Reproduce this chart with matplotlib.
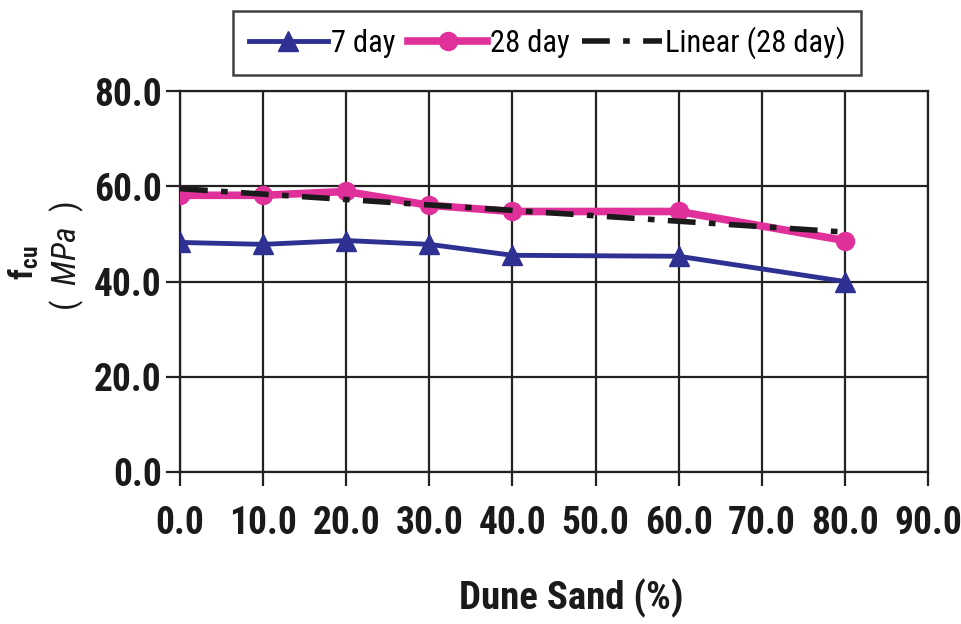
import numpy as np
import matplotlib
matplotlib.use("Agg")
import matplotlib.pyplot as plt
from matplotlib import font_manager

# Dune sand replacement level (%) and cube compressive strength (MPa)
sand_pct = [0, 10, 20, 30, 40, 60, 80]
fcu_7day = [48.2, 47.8, 48.6, 47.8, 45.5, 45.3, 40.0]
fcu_28day = [58.1, 58.1, 58.9, 56.0, 54.7, 54.7, 48.6]
x_ticks = [0, 10, 20, 30, 40, 50, 60, 70, 80, 90]
y_ticks = [0, 20, 40, 60, 80]

names = {f.name for f in font_manager.fontManager.ttflist}
family = "DejaVu Sans"
for cand in ["Nimbus Sans Narrow", "Liberation Sans Narrow", "Arial Narrow",
             "Roboto Condensed", "PT Sans Narrow", "Archivo Narrow", "Asap Condensed"]:
    if cand in names:
        family = cand
        break
plt.rcParams["font.family"] = [family, "DejaVu Sans"]
plt.rcParams["mathtext.fontset"] = "custom"
plt.rcParams["mathtext.rm"] = family
plt.rcParams["mathtext.it"] = family + ":italic"
plt.rcParams["mathtext.bf"] = family + ":bold"

fig = plt.figure(figsize=(9.62, 6.24), dpi=100)
ax = fig.add_axes([180 / 962, 1 - 472 / 624, (928 - 180) / 962, (472 - 91) / 624])

# linear trend of the 28-day strengths
slope, intercept = np.polyfit(sand_pct, fcu_28day, 1)
xs = np.array([sand_pct[0], sand_pct[-1]])

l7, = ax.plot(sand_pct, fcu_7day, color="#2e3192", lw=3.5, marker="^", ms=14,
              label="7 day", zorder=3)
l28, = ax.plot(sand_pct, fcu_28day, color="#e0309a", lw=5.5, marker="o", ms=13,
               label="28 day", zorder=4)
lfit, = ax.plot(xs, slope * xs + intercept, color="#1a1a1a", lw=4,
                dashes=(5, 2.4, 1.2, 2.4), label="Linear (28 day)", zorder=5)

ax.set_xlim(0, 90)
ax.set_ylim(0, 80)
ax.set_xticks(x_ticks)
ax.set_yticks(y_ticks)
ax.set_xticklabels([f"{v:.1f}" for v in x_ticks])
ax.set_yticklabels([f"{v:.1f}" for v in y_ticks])
ax.grid(True, color="#222222", lw=1.6)
ax.set_axisbelow(True)
for s in ax.spines.values():
    s.set_color("#222222")
    s.set_linewidth(1.6)
ax.tick_params(axis="both", length=10, width=1.6, color="#222222", direction="out",
               labelsize=27)
ax.tick_params(axis="x", pad=14)
ax.tick_params(axis="y", pad=3)
for lab in ax.get_xticklabels() + ax.get_yticklabels():
    lab.set_fontweight("bold")
    lab.set_color("#1a1a1a")

fig.text(571 / 962, 1 - 598 / 624, "Dune Sand (%)", fontsize=28, fontweight="bold",
         color="#1a1a1a", ha="center", va="center")

fig.text(24 / 962, 1 - 263 / 624, r"$\mathbf{f_{cu}}$", rotation=90, fontsize=24,
         ha="center", va="center", color="#1a1a1a")
fig.text(67 / 962, 1 - 256 / 624, "(  $\\mathit{MPa}$  )", rotation=90, fontsize=24,
         ha="center", va="center", color="#1a1a1a")

leg = fig.legend(handles=[l7, l28, lfit], loc="center",
                 bbox_to_anchor=(547 / 962, 1 - 43 / 624), ncol=3, fontsize=22,
                 frameon=True, fancybox=False, handlelength=2.6, handletextpad=0.1,
                 columnspacing=0.4, borderpad=0.5, markerscale=1.0)
leg.get_frame().set_edgecolor("#111111")
leg.get_frame().set_linewidth(1.8)

fig.savefig("out.png", dpi=100)
